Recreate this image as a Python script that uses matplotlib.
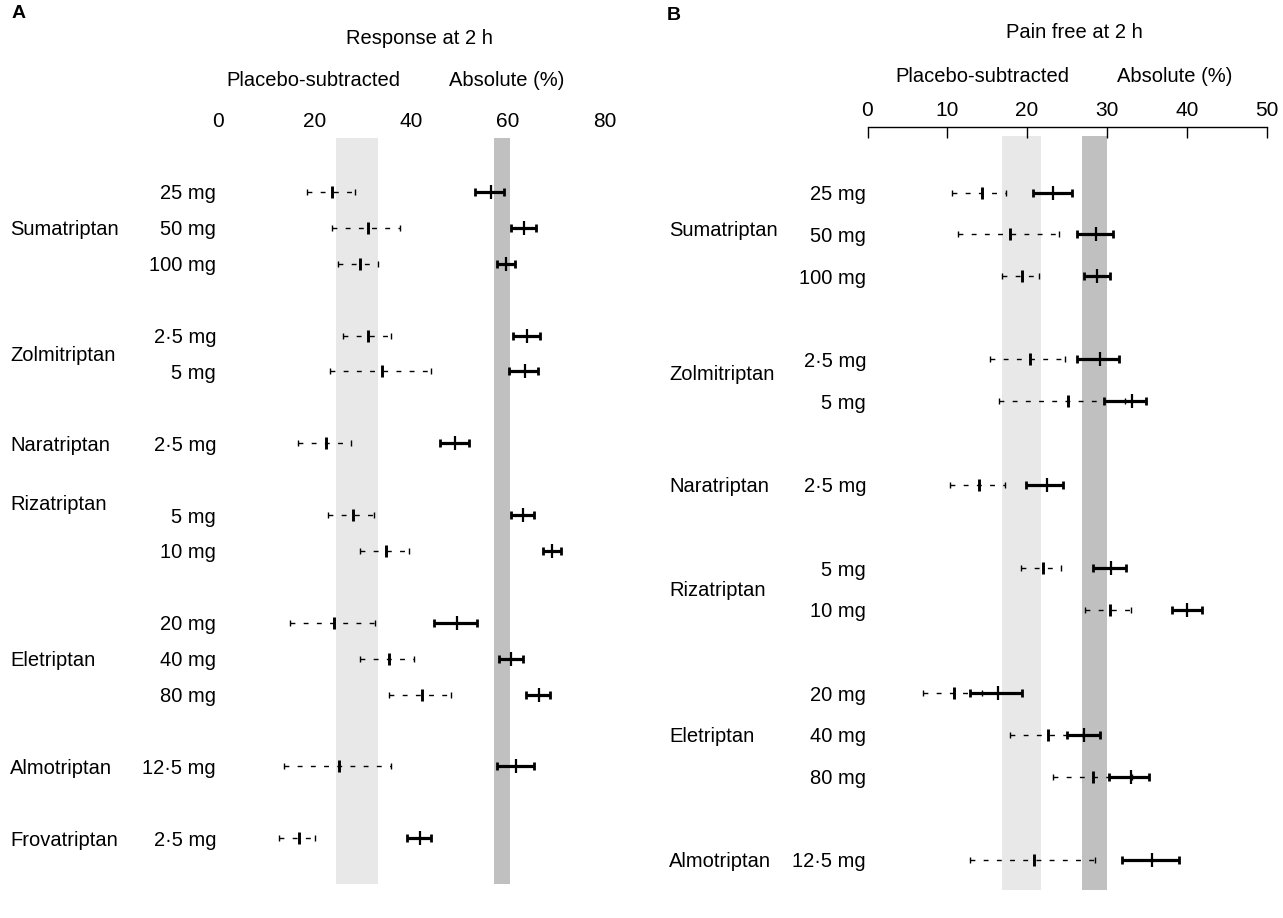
import matplotlib
matplotlib.use("Agg")
import matplotlib.pyplot as plt
from matplotlib.transforms import blended_transform_factory

plt.rcParams['font.family'] = ['Liberation Sans', 'DejaVu Sans']
plt.rcParams['font.size'] = 14.5
plt.rcParams['lines.scale_dashes'] = False

# ---- panel A: response at 2 h ----
A_doses = ["25 mg", "50 mg", "100 mg", "2·5 mg", "5 mg", "2·5 mg", "5 mg", "10 mg",
           "20 mg", "40 mg", "80 mg", "12·5 mg", "2·5 mg"]
A_rows = [0, 1, 2, 4, 5, 7, 9, 10, 12, 13, 14, 16, 18]
A_sub_mean = [23.7, 31.1, 29.4, 31.1, 34.0, 22.4, 27.9, 34.8, 24.1, 35.5, 42.3, 25.1, 16.7]
A_sub_lo = [18.4, 23.5, 24.8, 25.8, 23.1, 16.5, 22.8, 29.3, 15.0, 29.5, 35.5, 13.7, 12.6]
A_sub_hi = [28.3, 37.7, 33.1, 35.8, 44.2, 27.5, 32.2, 39.6, 32.6, 40.6, 48.2, 35.9, 20.1]
A_abs_mean = [56.5, 63.4, 59.7, 64.0, 63.5, 49.1, 63.1, 69.2, 49.5, 60.7, 66.5, 61.7, 41.8]
A_abs_lo = [53.3, 60.7, 57.7, 61.1, 60.3, 46.0, 60.7, 67.3, 44.7, 58.1, 63.8, 57.7, 39.1]
A_abs_hi = [59.3, 65.8, 61.4, 66.6, 66.3, 52.0, 65.4, 71.0, 53.6, 63.2, 68.8, 65.4, 44.2]
A_drugs = ["Sumatriptan", "Zolmitriptan", "Naratriptan", "Rizatriptan",
           "Eletriptan", "Almotriptan", "Frovatriptan"]
A_drug_rows = [1, 4.5, 7, 8.66, 13, 16, 18]
A_band_sub = (24.4, 33.1)
A_band_abs = (57.1, 60.5)
A_ticks = [0, 20, 40, 60, 80]

# ---- panel B: pain free at 2 h ----
B_doses = ["25 mg", "50 mg", "100 mg", "2·5 mg", "5 mg", "2·5 mg", "5 mg", "10 mg",
           "20 mg", "40 mg", "80 mg", "12·5 mg"]
B_rows = [0, 1, 2, 4, 5, 7, 9, 10, 12, 13, 14, 16]
B_sub_mean = [14.4, 17.9, 19.4, 20.4, 25.1, 14.0, 22.0, 30.4, 10.9, 22.6, 28.3, 20.9]
B_sub_lo = [10.6, 11.4, 16.9, 15.3, 16.5, 10.4, 19.2, 27.2, 6.9, 17.9, 23.2, 12.9]
B_sub_hi = [17.4, 24.0, 21.5, 24.8, 32.3, 17.2, 24.2, 33.0, 14.3, 27.0, 33.2, 28.5]
B_abs_mean = [23.3, 28.6, 28.8, 29.1, 33.2, 22.5, 30.5, 40.0, 16.4, 27.1, 33.0, 35.7]
B_abs_lo = [20.7, 26.3, 27.1, 26.3, 29.6, 19.9, 28.2, 38.1, 12.9, 25.0, 30.3, 31.9]
B_abs_hi = [25.6, 30.8, 30.4, 31.5, 34.9, 24.5, 32.4, 41.9, 19.4, 29.1, 35.3, 39.0]
B_drugs = ["Sumatriptan", "Zolmitriptan", "Naratriptan", "Rizatriptan",
           "Eletriptan", "Almotriptan"]
B_drug_rows = [0.87, 4.3, 7, 9.5, 13, 16]
B_band_sub = (16.8, 21.7)
B_band_abs = (26.9, 30.0)
B_ticks = [0, 10, 20, 30, 40, 50]

W, H = 1283, 918
fig = plt.figure(figsize=(W / 100, H / 100), dpi=100)


def px_axes(x0, x1, y0, y1):
    # pixel box -> figure fraction axes
    return fig.add_axes([x0 / W, 1 - y1 / H, (x1 - x0) / W, (y1 - y0) / H])


def ftext(x, y, s, **kw):
    fig.text(x / W, 1 - y / H, s, **kw)


def draw_bars(ax, rows, lo, mean, hi, dashed):
    xerr = [[m - l for m, l in zip(mean, lo)], [h - m for h, m in zip(hi, mean)]]
    if dashed:
        eb = ax.errorbar(mean, rows, xerr=xerr, fmt='none', ecolor='black',
                         elinewidth=1.0, capsize=2.4, capthick=1.0, zorder=3)
        eb.lines[2][0].set_linestyle((0, (3.5, 6.0)))
        ax.plot(mean, rows, ls='none', marker='|', ms=8.5, mew=2.1, color='black', zorder=4)
    else:
        ax.errorbar(mean, rows, xerr=xerr, fmt='none', ecolor='black',
                    elinewidth=2.3, capsize=3.0, capthick=2.0, zorder=5)
        ax.plot(mean, rows, ls='none', marker='|', ms=10, mew=1.6, color='black', zorder=6)


# ---------------- panel A ----------------
axA = px_axes(218, 218 + 80 * 4.83, 138, 884)
axA.set_xlim(0, 80)
axA.set_ylim((884 - 192) / 35.9, (138 - 192) / 35.9)
axA.axvspan(*A_band_sub, color='#e8e8e8', lw=0, zorder=0)
axA.axvspan(*A_band_abs, color='#c0c0c0', lw=0, zorder=0)
draw_bars(axA, A_rows, A_sub_lo, A_sub_mean, A_sub_hi, True)
draw_bars(axA, A_rows, A_abs_lo, A_abs_mean, A_abs_hi, False)
for s in axA.spines.values():
    s.set_visible(False)
axA.set_yticks([])
axA.xaxis.tick_top()
axA.set_xticks(A_ticks)
axA.tick_params(axis='x', length=0, pad=5, labelsize=15)

trA = blended_transform_factory(fig.transFigure, axA.transData)
for r, d in zip(A_rows, A_doses):
    axA.text(216 / W, r, d, transform=trA, ha='right', va='center_baseline')
for r, d in zip(A_drug_rows, A_drugs):
    axA.text(10 / W, r, d, transform=trA, ha='left', va='center_baseline')

ftext(12, 13, "A", fontweight='bold', ha='left', va='center', fontsize=14)
ftext(419, 38, "Response at 2 h", ha='center', va='center')
ftext(226, 81, "Placebo-subtracted", ha='left', va='center')
ftext(449, 81, "Absolute (%)", ha='left', va='center')

# ---------------- panel B ----------------
axB = px_axes(867.5, 867.5 + 50 * 7.98, 127, 890)
axB.set_xlim(0, 50)
axB.set_ylim((890 - 192.7) / 41.7, (127 - 192.7) / 41.7)
band_y = [(136 - 192.7) / 41.7, (890 - 192.7) / 41.7]
axB.fill_betweenx(band_y, *B_band_sub, color='#e8e8e8', lw=0, zorder=0)
axB.fill_betweenx(band_y, *B_band_abs, color='#c0c0c0', lw=0, zorder=0)
draw_bars(axB, B_rows, B_sub_lo, B_sub_mean, B_sub_hi, True)
draw_bars(axB, B_rows, B_abs_lo, B_abs_mean, B_abs_hi, False)
for k in ['left', 'right', 'bottom']:
    axB.spines[k].set_visible(False)
axB.spines['top'].set_linewidth(1.0)
axB.set_yticks([])
axB.xaxis.tick_top()
axB.set_xticks(B_ticks)
axB.tick_params(axis='x', direction='in', length=8, width=1.0, pad=5, labelsize=15)

trB = blended_transform_factory(fig.transFigure, axB.transData)
for r, d in zip(B_rows, B_doses):
    axB.text(866 / W, r, d, transform=trB, ha='right', va='center_baseline')
for r, d in zip(B_drug_rows, B_drugs):
    axB.text(669 / W, r, d, transform=trB, ha='left', va='center_baseline')

ftext(667, 15, "B", fontweight='bold', ha='left', va='center', fontsize=14)
ftext(1074, 32, "Pain free at 2 h", ha='center', va='center')
ftext(895, 76, "Placebo-subtracted", ha='left', va='center')
ftext(1117, 76, "Absolute (%)", ha='left', va='center')

fig.savefig("out.png", dpi=100)
